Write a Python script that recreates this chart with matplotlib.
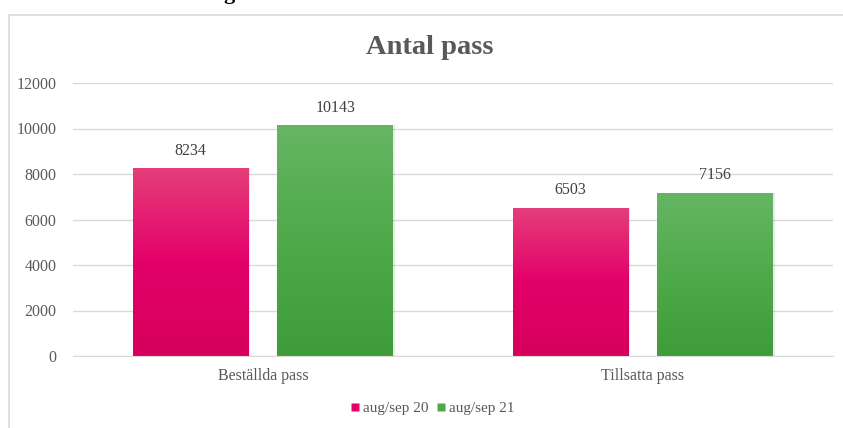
import matplotlib
matplotlib.use("Agg")
import matplotlib.pyplot as plt
import numpy as np
from matplotlib.patches import Rectangle
from matplotlib.lines import Line2D
from matplotlib.colors import LinearSegmentedColormap

categories = ["Beställda pass", "Tillsatta pass"]
series_names = ["aug/sep 20", "aug/sep 21"]
values_20 = [8234, 6503]
values_21 = [10143, 7156]
yticks = [0, 2000, 4000, 6000, 8000, 10000, 12000]
title = "Antal pass"

plt.rcParams['font.family'] = ['Liberation Serif', 'DejaVu Serif']

W, H = 843, 428
fig = plt.figure(figsize=(W / 100, H / 100), dpi=100)
fig.patch.set_facecolor('white')

# outer frame
fig.patches.append(Rectangle((9 / W, -0.2), 1.2, (1 - 15 / H) + 0.2,
                             transform=fig.transFigure, fill=False,
                             edgecolor='#D9D9D9', linewidth=1.2, zorder=0))
# fragment of a heading above the chart (cut off at the top edge as in the source)
fig.text(229 / W, 1 + 1 / H, "g", ha='center', va='baseline', fontsize=16,
         fontweight='bold', color='black')

ax = fig.add_axes([73 / W, 1 - 356 / H, (833 - 73) / W, (356 - 83) / H])
ax.set_facecolor('none')

x = np.arange(len(categories))
bw = 0.305
off = bw / 2 + 0.038

pink_cmap = LinearSegmentedColormap.from_list('p', ['#D6005C', '#E3006A', '#E53E7A'])
green_cmap = LinearSegmentedColormap.from_list('g', ['#3F9C3A', '#4FAA4A', '#66B563'])

b1 = ax.bar(x - off, values_20, bw, color='#E3006A', zorder=2, label=series_names[0])
b2 = ax.bar(x + off, values_21, bw, color='#4FAA4A', zorder=2, label=series_names[1])

grad = np.linspace(0, 1, 256).reshape(-1, 1)
for bars, cmap in ((b1, pink_cmap), (b2, green_cmap)):
    for r in bars:
        bx, bwid, bh = r.get_x(), r.get_width(), r.get_height()
        # soft shadow
        ax.add_patch(Rectangle((bx + 0.004, 0), bwid, bh, facecolor='#000000',
                               alpha=0.08, edgecolor='none', zorder=1.5))
        ax.imshow(grad, extent=[bx, bx + bwid, 0, bh], origin='lower',
                  aspect='auto', cmap=cmap, zorder=2.5)
        ax.annotate(f"{int(bh)}", (bx + bwid / 2, bh), xytext=(0, 7),
                    textcoords='offset points', ha='center', va='bottom',
                    fontsize=11.5, color='#404040', zorder=3)

ax.set_xlim(-0.5, 1.5)
ax.set_ylim(0, 12000)
ax.set_yticks(yticks)
ax.set_yticklabels([str(v) for v in yticks])
ax.set_xticks(x)
ax.set_xticklabels(categories)
ax.grid(axis='y', color='#D9D9D9', linewidth=1, zorder=0)
ax.set_axisbelow(True)
for s in ['top', 'right', 'left']:
    ax.spines[s].set_visible(False)
ax.spines['bottom'].set_color('#D9D9D9')
ax.tick_params(axis='both', length=0, labelsize=11.5, colors='#595959')
ax.tick_params(axis='y', pad=12)
ax.tick_params(axis='x', pad=9)

fig.text(430 / W, 1 - 47 / H, title, ha='center', va='center', fontsize=20.5,
         fontweight='bold', color='#595959')

handles = [Line2D([0], [0], marker='s', linestyle='none', markersize=5.5,
                  markerfacecolor='#E3006A', markeredgecolor='none'),
           Line2D([0], [0], marker='s', linestyle='none', markersize=5.5,
                  markerfacecolor='#4FAA4A', markeredgecolor='none')]
fig.legend(handles, series_names, loc='center', bbox_to_anchor=(433 / W, 1 - 408 / H),
           ncol=2, frameon=False, fontsize=11, handlelength=0.5,
           handletextpad=0.25, columnspacing=0.6, labelcolor='#595959')

fig.savefig('out.png', dpi=100)
